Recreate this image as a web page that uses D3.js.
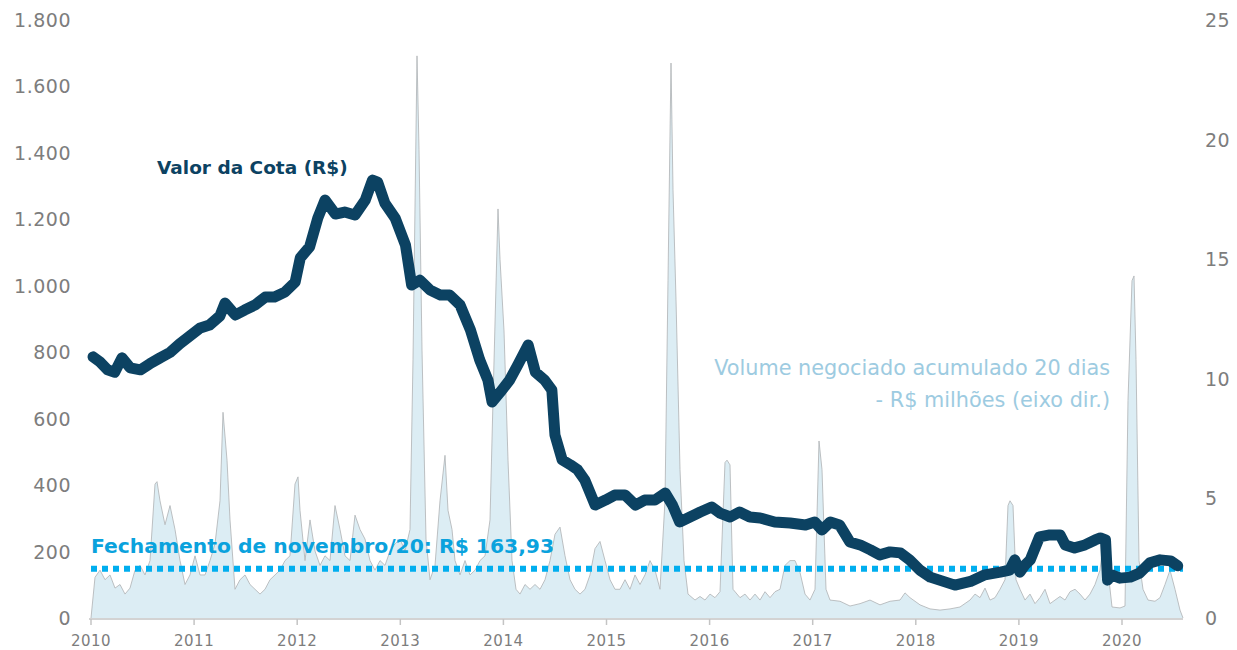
<!DOCTYPE html>
<html>
<head>
<meta charset="utf-8">
<script src="https://cdn.jsdelivr.net/npm/d3@7"></script>
<style>
  body { margin: 0; background: #fff; }
  svg { display: block; }
</style>
</head>
<body>
<svg id="chart" width="1237" height="650"></svg>
<script>
// Valor da cota (R$), eixo esquerdo. Datas em anos decimais.
let cotaDates = [2010.02, 2010.09, 2010.16, 2010.23, 2010.30, 2010.38, 2010.48, 2010.57, 2010.67, 2010.77,
    2010.86, 2010.96, 2011.06, 2011.15, 2011.25, 2011.30, 2011.40, 2011.49, 2011.59, 2011.69,
    2011.78, 2011.88, 2011.98, 2012.03, 2012.12, 2012.20, 2012.27, 2012.37, 2012.46, 2012.56,
    2012.66, 2012.73, 2012.78, 2012.85, 2012.95, 2013.05, 2013.11, 2013.19, 2013.29, 2013.39,
    2013.48, 2013.58, 2013.68, 2013.77, 2013.85, 2013.89, 2013.97, 2014.06, 2014.14, 2014.24,
    2014.31, 2014.40, 2014.47, 2014.50, 2014.57, 2014.65, 2014.72, 2014.79, 2014.89, 2014.99,
    2015.08, 2015.18, 2015.28, 2015.37, 2015.47, 2015.57, 2015.64, 2015.71, 2015.81, 2015.91,
    2016.02, 2016.10, 2016.20, 2016.29, 2016.39, 2016.49, 2016.63, 2016.78, 2016.93, 2017.02,
    2017.09, 2017.17, 2017.26, 2017.36, 2017.46, 2017.56, 2017.65, 2017.75, 2017.85, 2017.94,
    2018.04, 2018.14, 2018.23, 2018.38, 2018.53, 2018.67, 2018.82, 2018.91, 2018.96, 2019.01,
    2019.06, 2019.11, 2019.20, 2019.30, 2019.40, 2019.45, 2019.54, 2019.64, 2019.74, 2019.79,
    2019.84, 2019.86, 2019.90, 2019.98, 2020.08, 2020.17, 2020.27, 2020.37, 2020.47, 2020.54];
let cotaValues = [786, 770, 747, 740, 783, 753, 747, 765, 783, 800,
    825, 849, 873, 882, 909, 948, 912, 927, 942, 966,
    966, 981, 1011, 1084, 1117, 1204, 1258, 1216, 1222, 1213,
    1258, 1318, 1312, 1249, 1204, 1123, 1002, 1017, 987, 972,
    972, 942, 867, 777, 716, 650, 680, 716, 762, 822,
    740, 716, 686, 551, 476, 461, 446, 415, 340, 355,
    370, 370, 340, 355, 355, 376, 340, 289, 304, 319,
    334, 316, 304, 319, 304, 301, 289, 286, 280, 289,
    265, 289, 280, 229, 220, 205, 190, 199, 196, 175,
    144, 123, 114, 99, 110, 130, 138, 144, 175, 138,
    160, 175, 244, 250, 250, 220, 211, 220, 235, 241,
    235, 114, 130, 120, 123, 135, 166, 175, 172, 157];

// Volume negociado acumulado 20 dias (R$ milhões), eixo direito.
let volPixX = [91, 95, 100, 105, 110, 115, 120, 125, 130, 135, 140, 145, 150, 155, 157, 160, 165, 170, 175, 180,
    185, 190, 195, 200, 205, 210, 215, 220, 223, 227, 230, 235, 240, 245, 250, 255, 260, 265, 270, 275,
    280, 285, 290, 295, 298, 300, 305, 310, 315, 320, 325, 330, 335, 340, 345, 350, 355, 360, 365, 370,
    375, 380, 385, 390, 395, 400, 405, 410, 413, 417, 419, 422, 426, 430, 435, 440, 445, 448, 452, 455,
    460, 465, 470, 475, 480, 485, 490, 493, 498, 500, 504, 508, 512, 516, 520, 525, 530, 535, 540, 545,
    550, 555, 560, 565, 570, 575, 580, 585, 590, 595, 600, 605, 610, 615, 620, 625, 630, 635, 640, 645,
    650, 655, 660, 665, 668, 671, 673, 676, 680, 684, 688, 695, 700, 705, 710, 715, 720, 725, 727, 730,
    733, 740, 745, 750, 755, 760, 765, 770, 775, 780, 785, 790, 795, 800, 805, 810, 815, 819, 822, 826,
    830, 840, 850, 860, 870, 880, 890, 900, 905, 910, 920, 930, 940, 950, 960, 970, 975, 980, 985, 990,
    995, 1000, 1005, 1008, 1010, 1013, 1016, 1020, 1025, 1030, 1035, 1040, 1045, 1050, 1055, 1060, 1065, 1070, 1075, 1080,
    1085, 1090, 1095, 1100, 1103, 1106, 1109, 1112, 1120, 1125, 1128, 1132, 1134, 1136, 1139, 1143, 1148, 1155, 1160, 1165,
    1170, 1175, 1180, 1183];
let volValues = [0, 1.7, 2.0, 1.6, 1.8, 1.25, 1.4, 1.0, 1.25, 2.0, 2.2, 1.8, 2.4, 5.6, 5.7, 4.9, 3.9, 4.7, 3.7, 2.4,
    1.4, 1.8, 2.6, 1.8, 1.8, 2.4, 3.1, 4.9, 8.6, 6.6, 4.1, 1.2, 1.6, 1.8, 1.4, 1.2, 1.0, 1.2, 1.6, 1.8,
    2.0, 2.4, 2.6, 5.6, 5.9, 4.5, 2.4, 4.1, 2.8, 2.2, 2.6, 2.4, 4.7, 3.7, 2.6, 2.4, 4.3, 3.7, 3.3, 2.4,
    2.0, 2.4, 2.2, 2.8, 3.1, 3.3, 2.8, 3.7, 10.8, 23.5, 19.6, 11.2, 3.3, 1.6, 2.2, 4.9, 6.8, 4.5, 3.7, 2.4,
    1.8, 2.4, 1.8, 2.0, 2.4, 2.6, 4.1, 9.1, 17.1, 15.0, 12.0, 6.6, 2.4, 1.2, 1.0, 1.4, 1.2, 1.4, 1.2, 1.6,
    2.4, 3.5, 3.8, 2.6, 1.6, 1.2, 1.0, 1.2, 1.8, 2.9, 3.2, 2.4, 1.6, 1.2, 1.2, 1.6, 1.2, 1.8, 1.4, 1.8,
    2.4, 2.0, 1.2, 4.9, 14.1, 23.2, 17.9, 13.3, 6.2, 2.4, 1.0, 0.75, 0.9, 0.75, 1.0, 0.85, 1.1, 6.5, 6.6, 6.4,
    1.2, 0.85, 1.0, 0.75, 1.0, 0.75, 1.1, 0.85, 1.1, 1.2, 2.2, 2.4, 2.4, 1.9, 1.0, 0.75, 1.2, 7.4, 6.2, 1.2,
    0.75, 0.7, 0.5, 0.6, 0.75, 0.55, 0.7, 0.75, 1.05, 0.85, 0.55, 0.38, 0.33, 0.38, 0.46, 0.75, 1.0, 0.85, 1.25, 0.75,
    0.85, 1.2, 1.6, 4.7, 4.9, 4.7, 1.6, 1.2, 0.75, 1.0, 0.6, 0.85, 1.2, 0.6, 0.75, 0.9, 0.75, 1.1, 1.2, 1.0,
    0.75, 1.0, 1.4, 2.0, 3.05, 2.6, 1.6, 0.46, 0.42, 0.5, 9.1, 14.1, 14.3, 10.8, 2.4, 1.2, 0.75, 0.7, 0.85, 1.4,
    2.0, 1.2, 0.33, 0];
// posições lidas em pixels do original -> anos decimais
let volDates = volPixX.map(px => 2010 + (px - 91) / 103.1);

let years = d3.range(2010, 2021);
let leftTicks = d3.range(0, 1801, 200);
let rightTicks = d3.range(0, 26, 5);
let closingValue = 148; // posição visual da linha de fechamento

let svg = d3.select('#chart');
let margin = { left: 91, right: 1183, top: 20, bottom: 618 };

let xScale = d3.scaleLinear()
    .domain([2010, 2021])
    .range([margin.left, margin.left + 11 * 103.1]);
let yLeft = d3.scaleLinear().domain([0, 1800]).range([margin.bottom, margin.top]);
let yRight = d3.scaleLinear().domain([0, 25]).range([margin.bottom, margin.top]);

let axisFont = 'DejaVu Sans';
let textFont = 'DejaVu Sans';

// Volume (area)
let volData = volDates.map((d, i) => ({ t: d, v: volValues[i] }));
let area = d3.area()
    .x(d => xScale(d.t))
    .y0(yRight(0))
    .y1(d => yRight(d.v));
svg.append('path')
    .datum(volData)
    .attr('d', area)
    .attr('fill', '#dcedf4');
svg.append('path')
    .datum(volData)
    .attr('d', d3.line().x(d => xScale(d.t)).y(d => yRight(d.v)))
    .attr('fill', 'none')
    .attr('stroke', '#b5b9bb')
    .attr('stroke-width', 0.9);

// Linha de fechamento pontilhada
svg.append('line')
    .attr('x1', xScale(2010))
    .attr('x2', xScale(volDates[volDates.length - 1]))
    .attr('y1', yLeft(closingValue))
    .attr('y2', yLeft(closingValue))
    .attr('stroke', '#00aeef')
    .attr('stroke-width', 6)
    .style('stroke-dasharray', '6,5');

// Valor da cota
let cotaData = cotaDates.map((d, i) => ({ t: d, v: cotaValues[i] }));
svg.append('path')
    .datum(cotaData)
    .attr('d', d3.line().x(d => xScale(d.t)).y(d => yLeft(d.v)))
    .attr('fill', 'none')
    .attr('stroke', '#0c4262')
    .attr('stroke-width', 11)
    .style('stroke-linejoin', 'round')
    .style('stroke-linecap', 'round');

// Eixo x
let xAxis = svg.append('g');
xAxis.append('line')
    .attr('x1', xScale(2010) - 2)
    .attr('x2', margin.right)
    .attr('y1', margin.bottom + 1)
    .attr('y2', margin.bottom + 1)
    .attr('stroke', '#c4c4c4')
    .attr('stroke-width', 1.5);
years.forEach(yr => {
    xAxis.append('line')
        .attr('x1', xScale(yr))
        .attr('x2', xScale(yr))
        .attr('y1', margin.bottom + 1)
        .attr('y2', margin.bottom + 7)
        .attr('stroke', '#c4c4c4')
        .attr('stroke-width', 1.5);
    xAxis.append('text')
        .attr('x', xScale(yr))
        .attr('y', 646)
        .style('text-anchor', 'middle')
        .style('font-family', axisFont)
        .style('font-size', '15px')
        .style('letter-spacing', '0.5px')
        .style('fill', '#7d7d7d')
        .text(yr);
});

// Eixos y
let fmt = d3.formatLocale({ decimal: ',', thousands: '.', grouping: [3], currency: ['R$ ', ''] }).format(',');
leftTicks.forEach(v => {
    svg.append('text')
        .attr('x', 71)
        .attr('y', yLeft(v) + 7)
        .style('text-anchor', 'end')
        .style('font-family', axisFont)
        .style('font-size', '19px')
        .style('letter-spacing', '0.5px')
        .style('fill', '#7d7d7d')
        .text(fmt(v));
});
rightTicks.forEach(v => {
    svg.append('text')
        .attr('x', 1205)
        .attr('y', yRight(v) + 7)
        .style('text-anchor', 'start')
        .style('font-family', axisFont)
        .style('font-size', '19px')
        .style('letter-spacing', '0.5px')
        .style('fill', '#7d7d7d')
        .text(v);
});

// Anotações
svg.append('text')
    .attr('x', 157)
    .attr('y', 174)
    .style('font-family', textFont)
    .style('font-weight', 'bold')
    .style('font-size', '18.5px')
    .style('fill', '#0c4262')
    .text('Valor da Cota (R$)');

svg.append('text')
    .attr('x', 91)
    .attr('y', 553)
    .style('font-family', textFont)
    .style('font-weight', 'bold')
    .style('font-size', '20.3px')
    .style('fill', '#0aa2dd')
    .text('Fechamento de novembro/20: R$ 163,93');

svg.append('text')
    .attr('x', 1110)
    .attr('y', 375)
    .style('text-anchor', 'end')
    .style('font-family', textFont)
    .style('font-size', '20.8px')
    .style('fill', '#9dcbe1')
    .text('Volume negociado acumulado 20 dias');
svg.append('text')
    .attr('x', 1110)
    .attr('y', 407)
    .style('text-anchor', 'end')
    .style('font-family', textFont)
    .style('font-size', '20.8px')
    .style('fill', '#9dcbe1')
    .text('- R$ milhões (eixo dir.)');
</script>
</body>
</html>
